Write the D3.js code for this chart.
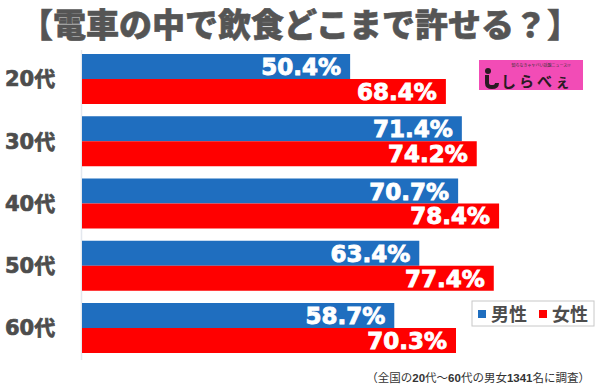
<!DOCTYPE html>
<html>
<head>
<meta charset="utf-8">
<script src="https://cdn.jsdelivr.net/npm/d3@7"></script>
<style>
  body { margin: 0; background: #fff; }
  svg { display: block; }
</style>
</head>
<body>
<div id="chart"></div>
<script>
// data
const ages = ['20代', '30代', '40代', '50代', '60代']
const series = ['男性', '女性']
const male = [50.4, 71.4, 70.7, 63.4, 58.7]
const female = [68.4, 74.2, 78.4, 77.4, 70.3]
const colors = ['#1f6ebf', '#ff0000']

const width = 600, height = 390
const jp = '"Noto Sans CJK JP", sans-serif'
const num = '"DejaVu Sans", "Noto Sans CJK JP", sans-serif'

const svg = d3.select('#chart').append('svg')
  .attr('width', width)
  .attr('height', height)

// title
svg.append('text')
  .attr('x', 300)
  .attr('y', 37)
  .attr('text-anchor', 'middle')
  .style('font-family', jp)
  .style('font-weight', 900)
  .style('font-size', '33px')
  .style('fill', '#555')
  .style('stroke', '#555')
  .style('stroke-width', 0.6)
  .text('【電車の中で飲食どこまで許せる？】')

const x = d3.scaleLinear().domain([0, 100]).range([82, 614])
const y = d3.scaleBand().domain(ages).range([54, 353]).paddingInner(0.1968).paddingOuter(0)
const ySub = d3.scaleBand().domain(series).range([0, y.bandwidth()])

const rows = ages.map((a, i) => ({age: a, values: [male[i], female[i]]}))

// faint axis line
svg.append('line')
  .attr('x1', x(0) - 0.5).attr('x2', x(0) - 0.5)
  .attr('y1', 50).attr('y2', 360)
  .style('stroke', '#e4e8ee')
  .style('stroke-width', 1.5)

const g = svg.selectAll('.group')
  .data(rows)
  .enter().append('g')
  .attr('class', 'group')
  .attr('transform', d => `translate(0, ${y(d.age)})`)

g.selectAll('rect')
  .data(d => d.values.map((v, j) => ({s: series[j], v: v, j: j})))
  .enter().append('rect')
  .attr('x', x(0))
  .attr('y', d => ySub(d.s))
  .attr('width', d => x(d.v) - x(0))
  .attr('height', ySub.bandwidth())
  .style('fill', d => colors[d.j])

g.selectAll('.val')
  .data(d => d.values.map((v, j) => ({s: series[j], v: v, j: j})))
  .enter().append('text')
  .attr('class', 'val')
  .attr('x', d => x(d.v) - 9)
  .attr('y', d => ySub(d.s) + ySub.bandwidth() / 2 + 8.5)
  .attr('text-anchor', 'end')
  .style('font-family', num)
  .style('font-weight', 'bold')
  .style('font-size', '23px')
  .style('fill', '#fff')
  .style('stroke', '#fff')
  .style('stroke-width', 0.9)
  .text(d => d.v.toFixed(1) + '%')

// category labels
g.append('text')
  .attr('x', 5)
  .attr('y', y.bandwidth() / 2 + 7.5)
  .style('font-family', num)
  .style('font-weight', 'bold')
  .style('font-size', '21px')
  .style('fill', '#4d4d4d')
  .style('stroke', '#4d4d4d')
  .style('stroke-width', 0.7)
  .text(d => d.age)

// logo
const logo = svg.append('g').attr('transform', 'translate(479, 60)')
logo.append('rect')
  .attr('width', 104).attr('height', 30)
  .style('fill', '#f24cb6')
logo.append('text')
  .attr('x', 62).attr('y', 6.5)
  .attr('text-anchor', 'middle')
  .style('font-family', jp)
  .style('font-size', '4px')
  .style('fill', '#333')
  .text('知らなきゃヤバい話題ニュース!?')
logo.append('circle')
  .attr('cx', 9).attr('cy', 11).attr('r', 3)
  .style('fill', '#2a1a22')
logo.append('path')
  .attr('d', 'M8,15 L8,23 Q8,27 13,27 Q18,27 18,23')
  .style('fill', 'none')
  .style('stroke', '#2a1a22')
  .style('stroke-width', 4)
logo.append('text')
  .attr('x', 22).attr('y', 26.5)
  .style('font-family', jp)
  .style('font-weight', 'bold')
  .style('font-size', '15px')
  .style('letter-spacing', '3px')
  .style('fill', '#2a1a22')
  .text('しらべぇ')

// legend
const lg = svg.append('g').attr('transform', 'translate(472, 301)')
lg.append('rect')
  .attr('width', 122).attr('height', 25)
  .style('fill', '#fff')
  .style('stroke', '#c8c8c8')
const items = lg.selectAll('.item')
  .data(series)
  .enter().append('g')
  .attr('transform', (d, i) => `translate(${6 + i * 61}, 0)`)
items.append('rect')
  .attr('x', 0).attr('y', 9)
  .attr('width', 8).attr('height', 8)
  .style('fill', (d, i) => colors[i])
items.append('text')
  .attr('x', 13).attr('y', 19.5)
  .style('font-family', jp)
  .style('font-weight', 'bold')
  .style('font-size', '18px')
  .style('fill', '#4d4d4d')
  .text(d => d)

// footnote
const note = svg.append('text')
  .attr('x', 590)
  .attr('y', 382)
  .attr('text-anchor', 'end')
  .style('font-family', jp)
  .style('font-size', '11.5px')
  .style('fill', '#333')
const parts = [['（全国の', false], ['20', true], ['代～', false], ['60', true], ['代の男女', false], ['1341', true], ['名に調査）', false]]
note.selectAll('tspan')
  .data(parts)
  .enter().append('tspan')
  .style('font-family', d => d[1] ? '"Liberation Sans", sans-serif' : jp)
  .style('font-weight', d => d[1] ? 'bold' : 'normal')
  .text(d => d[0])
</script>
</body>
</html>
